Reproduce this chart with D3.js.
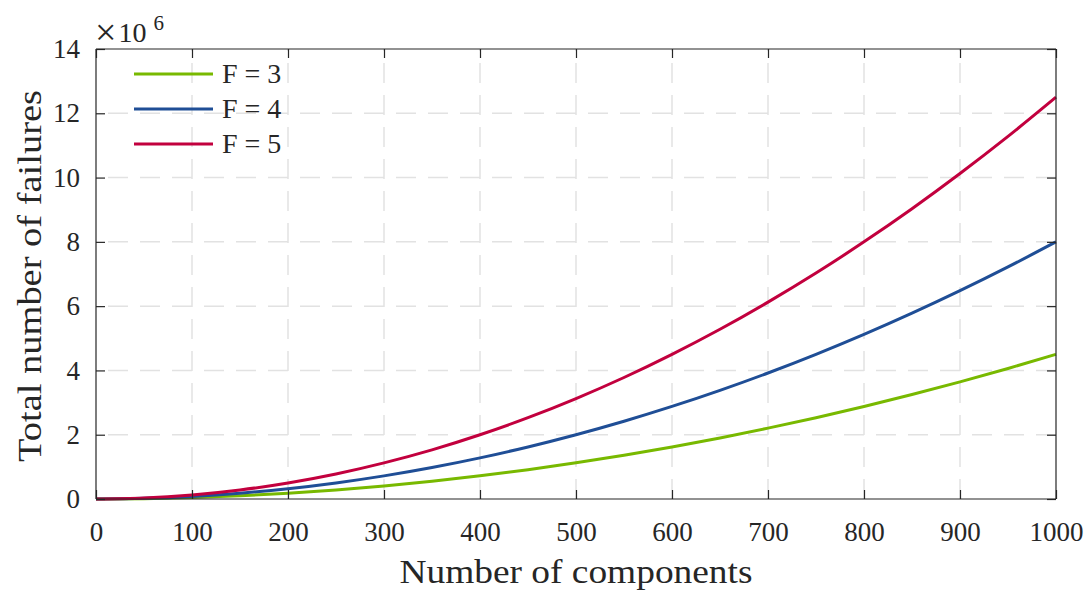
<!DOCTYPE html>
<html>
<head>
<meta charset="utf-8">
<script src="https://cdn.jsdelivr.net/npm/d3@7"></script>
<style>
  html, body { margin: 0; padding: 0; background: #fff; }
  svg { display: block; }
  text { font-family: "Liberation Serif", "Times New Roman", serif; fill: #262626; }
</style>
</head>
<body>
<svg id="chart" width="1086" height="590"></svg>
<script>
// ---- data (values in units of 10^6) ----
const components = [0, 50, 100, 150, 200, 250, 300, 350, 400, 450, 500, 550, 600, 650, 700, 750, 800, 850, 900, 950, 1000];
const failuresF3 = [0, 0.011, 0.045, 0.10, 0.18, 0.28, 0.405, 0.55, 0.72, 0.91, 1.125, 1.36, 1.62, 1.90, 2.205, 2.53, 2.88, 3.25, 3.645, 4.06, 4.5];
const failuresF4 = [0, 0.02, 0.08, 0.18, 0.32, 0.5, 0.72, 0.98, 1.28, 1.62, 2.0, 2.42, 2.88, 3.38, 3.92, 4.5, 5.12, 5.78, 6.48, 7.22, 8.0];
const failuresF5 = [0, 0.031, 0.125, 0.28, 0.5, 0.78, 1.125, 1.53, 2.0, 2.53, 3.125, 3.78, 4.5, 5.28, 6.125, 7.03, 8.0, 9.03, 10.125, 11.28, 12.5];
const seriesNames = ["F = 3", "F = 4", "F = 5"];
const seriesColors = ["#78B900", "#1F4E96", "#C2003E"];
const xTicks = [0, 100, 200, 300, 400, 500, 600, 700, 800, 900, 1000];
const yTicks = [0, 2, 4, 6, 8, 10, 12, 14];

const series = [failuresF3, failuresF4, failuresF5].map((vals, i) => ({
  name: seriesNames[i], color: seriesColors[i],
  points: components.map((c, j) => [c, vals[j]])
}));

const FONT = '"Liberation Serif", "Times New Roman", serif';
const svg = d3.select("#chart");
const m = { left: 96, right: 1056, top: 49, bottom: 499 };
const x = d3.scaleLinear().domain([0, 1000]).range([m.left, m.right]);
const y = d3.scaleLinear().domain([0, 14]).range([m.bottom, m.top]);

// grid
const grid = svg.append("g");
grid.selectAll(".vg").data(xTicks.slice(1, -1)).join("line")
  .attr("x1", d => x(d)).attr("x2", d => x(d))
  .attr("y1", m.bottom).attr("y2", m.top)
  .attr("stroke", "#e2e2e2").attr("stroke-width", 1.5).attr("stroke-dasharray", "20,12");
grid.selectAll(".hg").data(yTicks.slice(1, -1)).join("line")
  .attr("x1", m.right).attr("x2", m.left)
  .attr("y1", d => y(d)).attr("y2", d => y(d))
  .attr("stroke", "#e2e2e2").attr("stroke-width", 1.5).attr("stroke-dasharray", "20,12");

// lines
const line = d3.line().x(d => x(d[0])).y(d => y(d[1])).curve(d3.curveMonotoneX);
svg.append("g").selectAll("path").data(series).join("path")
  .attr("d", d => line(d.points))
  .attr("fill", "none").attr("stroke", d => d.color).attr("stroke-width", 3);

// axes box with inward ticks
const axisColor = "#262626";
const tickLen = 9;
const ax = svg.append("g");
const bottomAxis = d3.axisBottom(x).tickValues(xTicks).tickSize(-tickLen).tickPadding(23).tickFormat(d3.format("d"));
const topAxis = d3.axisTop(x).tickValues(xTicks).tickSize(-tickLen).tickFormat("");
const leftAxis = d3.axisLeft(y).tickValues(yTicks).tickSize(-tickLen).tickPadding(16).tickFormat(d3.format("d"));
const rightAxis = d3.axisRight(y).tickValues(yTicks).tickSize(-tickLen).tickFormat("");

function style(g) {
  g.attr("font-family", FONT);
  g.select(".domain").attr("stroke", axisColor).attr("stroke-width", 1.2);
  g.selectAll(".tick line").attr("stroke", axisColor).attr("stroke-width", 1.2);
  g.selectAll(".tick text").attr("fill", "#262626").attr("font-size", 27)
    .attr("font-family", FONT);
}
ax.append("g").attr("transform", `translate(0,${m.bottom})`).call(bottomAxis).call(style)
  .call(g => g.select(".domain").attr("d", `M${m.left},0H${m.right}`));
ax.append("g").attr("transform", `translate(0,${m.top})`).call(topAxis).call(style)
  .call(g => g.select(".domain").attr("d", `M${m.left},0H${m.right}`));
ax.append("g").attr("transform", `translate(${m.left},0)`).call(leftAxis).call(style)
  .call(g => g.select(".domain").attr("d", `M0,${m.top}V${m.bottom}`));
ax.append("g").attr("transform", `translate(${m.right},0)`).call(rightAxis).call(style)
  .call(g => g.select(".domain").attr("d", `M0,${m.top}V${m.bottom}`));

// exponent label
const ex = svg.append("text").attr("x", 95).attr("y", 42).attr("font-size", 28);
ex.append("tspan").attr("font-size", 38).attr("dy", 3).text("×");
ex.append("tspan").attr("dx", 2).attr("dy", -3).text("10");
ex.append("tspan").attr("font-size", 21).attr("dx", 7).attr("dy", -12).text("6");

// axis labels
svg.append("text").attr("x", (m.left + m.right) / 2).attr("y", 583)
  .attr("text-anchor", "middle").attr("font-size", 34)
  .attr("textLength", 353).attr("lengthAdjust", "spacingAndGlyphs")
  .text("Number of components");
svg.append("text").attr("transform", `translate(41,${(90 + 462) / 2}) rotate(-90)`)
  .attr("text-anchor", "middle").attr("font-size", 34)
  .attr("textLength", 372).attr("lengthAdjust", "spacingAndGlyphs")
  .text("Total number of failures");

// legend
const legend = svg.append("g");
const legendY = [74, 109, 144];
series.forEach((s, i) => {
  legend.append("line").attr("x1", 134).attr("x2", 213)
    .attr("y1", legendY[i]).attr("y2", legendY[i])
    .attr("stroke", s.color).attr("stroke-width", 3);
  legend.append("text").attr("x", 222).attr("y", legendY[i] + 9)
    .attr("font-size", 28).text(s.name);
});
</script>
</body>
</html>
